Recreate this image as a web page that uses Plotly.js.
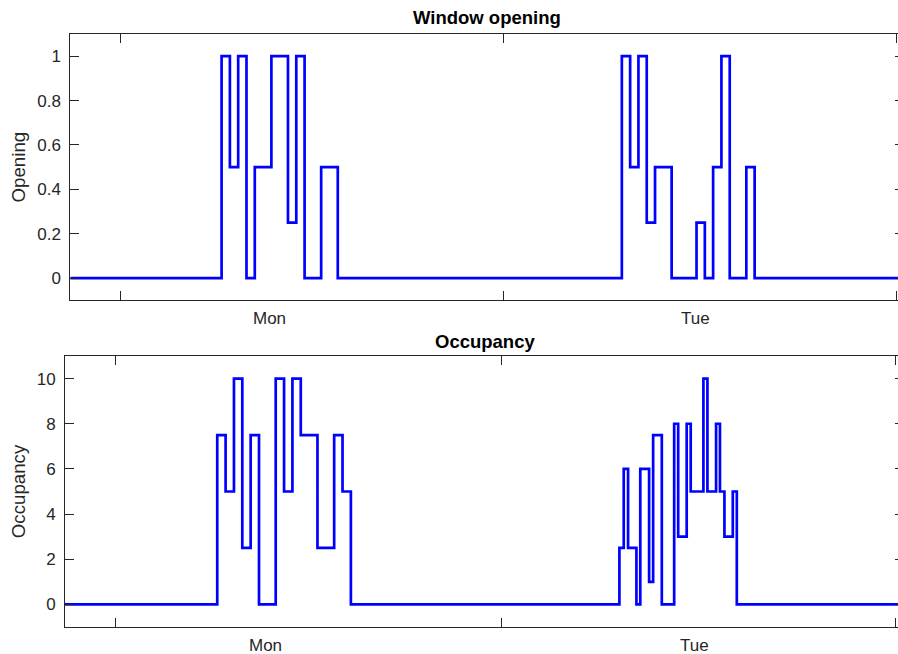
<!DOCTYPE html>
<html>
<head>
<meta charset="utf-8">
<script src="https://cdn.plot.ly/plotly-3.0.1.min.js"></script>
<style>
html, body { margin: 0; padding: 0; background: #ffffff; overflow: hidden; width: 898px; height: 654px; }
#chart { width: 906px; height: 654px; }
</style>
</head>
<body>
<div id="chart"></div>
<script>
// Time in hours relative to Monday 00:00
const openTime  = [-3.16, 6.32, 6.84, 7.36, 7.88, 8.40, 9.44, 10.48, 11.00, 11.52, 12.56, 13.60,
                   31.40, 31.92, 32.44, 32.96, 33.48, 34.52, 36.08, 36.60, 37.12, 37.64, 38.16, 39.20, 39.72, 49.08];
const openValue = [0, 1, 0.5, 1, 0, 0.5, 1, 0.25, 1, 0, 0.5, 0,
                   1, 0.5, 1, 0.25, 0.5, 0, 0.25, 0, 0.5, 1, 0, 0.5, 0, 0];

const occTime  = [-3.16, 6.32, 6.84, 7.36, 7.88, 8.40, 8.92, 9.96, 10.48, 11.00, 11.52, 12.56, 13.60, 14.12, 14.64,
                  31.36, 31.63, 31.90, 32.42, 32.66, 33.21, 33.46, 34.00, 34.77, 35.02, 35.55, 35.80, 36.59, 36.84,
                  37.38, 37.62, 37.90, 38.42, 38.67, 49.08];
const occValue = [0, 7.5, 5, 10, 2.5, 7.5, 0, 10, 5, 10, 7.5, 2.5, 7.5, 5, 0,
                  2.5, 6, 2.5, 0, 6, 1, 7.5, 0, 8, 3, 8, 5, 10, 5,
                  8, 5, 3, 5, 0, 0];

const dayTickVals   = [0, 24, 48.58];
const dayLabelVals  = [9.32, 36.02];
const dayLabelText  = ['Mon', 'Tue'];
const openTickVals  = [0, 0.2, 0.4, 0.6, 0.8, 1];
const openTickText  = ['0', '0.2', '0.4', '0.6', '0.8', '1'];
const occTickVals   = [0, 2, 4, 6, 8, 10];
const occTickText   = ['0', '2', '4', '6', '8', '10'];

const FONT = 'Liberation Sans, Arial, Helvetica, sans-serif';
const AX = '#262626';
const X_RANGE = [-3.16, 49.08];
const TOP_XDOM = [0.0776, 0.99779];
const BOT_XDOM = [0.07174, 0.99779];

const traces = [
  { x: openTime, y: openValue, type: 'scatter', mode: 'lines', line: { shape: 'hv', color: '#0000ff', width: 2.7 }, xaxis: 'x', yaxis: 'y', hoverinfo: 'skip' },
  { x: occTime, y: occValue, type: 'scatter', mode: 'lines', line: { shape: 'hv', color: '#0000ff', width: 2.7 }, xaxis: 'x2', yaxis: 'y2', hoverinfo: 'skip' }
];

function axisStyle(extra) {
  return Object.assign({
    showline: true, linecolor: AX, linewidth: 1, mirror: 'ticks',
    ticks: 'inside', ticklen: 9, tickwidth: 1, tickcolor: AX,
    showgrid: false, zeroline: false, fixedrange: true,
    tickfont: { family: FONT, size: 17, color: AX }
  }, extra);
}

const dayLabels = [];
dayLabelVals.forEach(function (v, i) {
  dayLabels.push({ text: dayLabelText[i], xref: 'x', yref: 'paper', x: v, y: 0.5130, xanchor: 'center', yanchor: 'middle', showarrow: false, font: { family: FONT, size: 17, color: AX } });
  dayLabels.push({ text: dayLabelText[i], xref: 'x2', yref: 'paper', x: v, y: 0.0135, xanchor: 'center', yanchor: 'middle', showarrow: false, font: { family: FONT, size: 17, color: AX } });
});

const layout = {
  width: 906, height: 654,
  margin: { l: 0, r: 0, t: 0, b: 0 },
  paper_bgcolor: '#ffffff', plot_bgcolor: '#ffffff',
  showlegend: false,
  font: { family: FONT, color: AX },
  xaxis: axisStyle({ domain: TOP_XDOM, anchor: 'y', range: X_RANGE, tickmode: 'array', tickvals: dayTickVals, showticklabels: false }),
  yaxis: axisStyle({ domain: [0.5408, 0.9480], anchor: 'x', range: [-0.1, 1.1], tickmode: 'array', tickvals: openTickVals, ticktext: openTickText,
    ticklabelstandoff: 5,
    title: { text: 'Opening', font: { family: FONT, size: 18.7, color: AX }, standoff: 6 } }),
  xaxis2: axisStyle({ domain: BOT_XDOM, anchor: 'y2', range: X_RANGE, tickmode: 'array', tickvals: dayTickVals, showticklabels: false }),
  yaxis2: axisStyle({ domain: [0.04128, 0.45566], anchor: 'x2', range: [-1, 11], tickmode: 'array', tickvals: occTickVals, ticktext: occTickText,
    ticklabelstandoff: 5,
    title: { text: 'Occupancy', font: { family: FONT, size: 18.7, color: AX }, standoff: 6 } }),
  annotations: [
    { text: '<b>Window opening</b>', xref: 'paper', yref: 'paper', x: 0.5375, y: 0.9725, xanchor: 'center', yanchor: 'middle', showarrow: false, font: { family: FONT, size: 18.5, color: '#000000' } },
    { text: '<b>Occupancy</b>', xref: 'paper', yref: 'paper', x: 0.5348, y: 0.4771, xanchor: 'center', yanchor: 'middle', showarrow: false, font: { family: FONT, size: 18.5, color: '#000000' } }
  ].concat(dayLabels)
};

Plotly.newPlot('chart', traces, layout, { displayModeBar: false, staticPlot: true });
</script>
</body>
</html>
